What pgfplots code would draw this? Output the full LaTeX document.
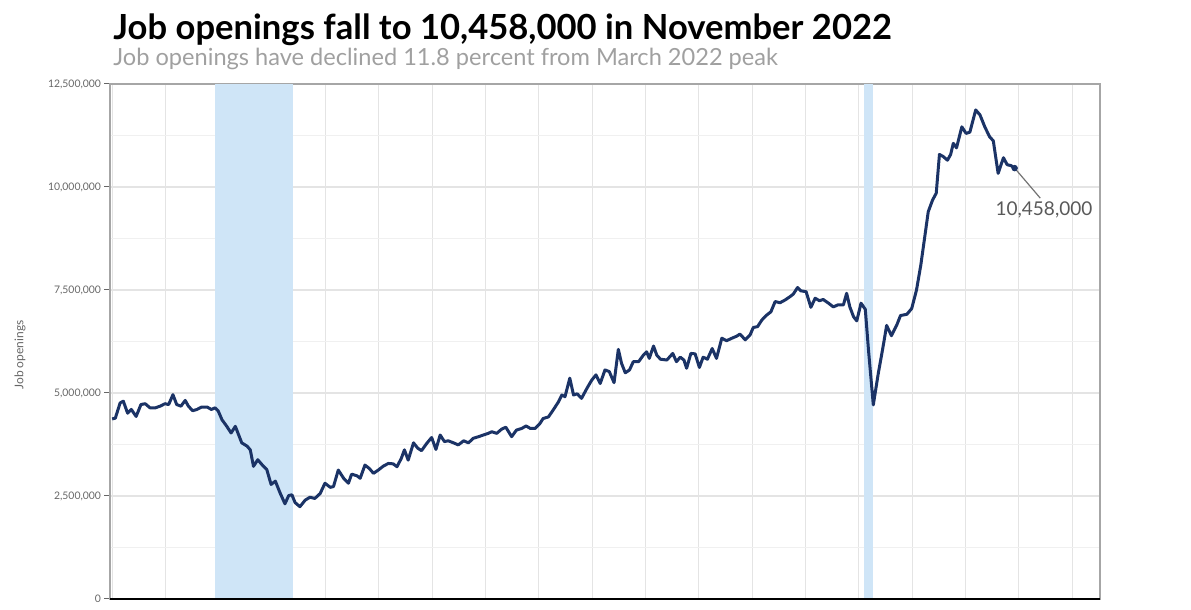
\documentclass[border=0pt]{standalone}
\usepackage{pgfplots}
\pgfplotsset{compat=1.18}
\usepackage{fontspec}
\setmainfont{Lato}
\definecolor{navy}{HTML}{1B3366}
\definecolor{recess}{HTML}{CFE5F7}
\definecolor{gridc}{HTML}{E4E4E4}
\definecolor{gridm}{HTML}{F0F0F0}
\definecolor{subgray}{HTML}{A0A0A0}
\definecolor{tickgray}{HTML}{666666}
\begin{document}
\begin{tikzpicture}
\useasboundingbox (0,0) rectangle (595.5pt,305pt);
\node[anchor=base west, inner sep=0pt, font=\fontsize{17.3}{19}\selectfont\bfseries] at (56.5pt,285pt) {Job openings fall to 10,458,000 in November 2022};
\node[anchor=base west, inner sep=0pt, text=subgray, font=\fontsize{11.8}{13}\selectfont] at (56.5pt,272pt) {Job openings have declined 11.8 percent from March 2022 peak};
\node[rotate=90, inner sep=0pt, text=tickgray, font=\fontsize{6}{7}\selectfont] at (10pt,127.5pt) {Job openings};
\begin{axis}[
  at={(55pt,5.5pt)}, anchor=origin,
  scale only axis, width=495pt, height=257.5pt,
  xmin=2005.96, xmax=2024.52, ymin=0, ymax=12.5,
  xtick={2006,2007,...,2024}, xticklabels={}, xtick style={draw=none},
  ytick={0,2.5,5,7.5,10,12.5},
  yticklabels={0,{2,500,000},{5,000,000},{7,500,000},{10,000,000},{12,500,000}},
  minor ytick={1.25,3.75,6.25,8.75,11.25},
  ytick pos=left, ytick align=outside,
  major tick length=2.8pt, minor tick length=0pt,
  y tick style={tickgray, line width=0.5pt},
  yticklabel style={text=tickgray, font=\fontsize{5.2}{6}\selectfont, inner xsep=1.5pt},
  /pgf/number format/assume math mode=true,
  grid=both,
  major grid style={gridc, line width=0.6pt},
  minor grid style={gridm, line width=0.6pt},
  axis line style={draw=black!35, line width=0.6pt},
  clip=false,
]
\addplot[fill=recess, draw=none] coordinates {(2007.93,0) (2007.93,12.5) (2009.40,12.5) (2009.40,0)} -- cycle;
\addplot[fill=recess, draw=none] coordinates {(2020.10,0) (2020.10,12.5) (2020.27,12.5) (2020.27,0)} -- cycle;
\draw[black, line width=0.8pt] (rel axis cs:0,0) -- (rel axis cs:1,0);
\addplot[navy, line width=1.5pt, line join=round] coordinates {
(2006.00,4.37) (2006.06,4.39) (2006.15,4.76) (2006.21,4.80) (2006.29,4.51) (2006.36,4.60) (2006.45,4.43) (2006.54,4.72) (2006.62,4.74) (2006.71,4.64) (2006.81,4.64) (2006.90,4.68)
(2006.99,4.74) (2007.06,4.72) (2007.14,4.96) (2007.21,4.72) (2007.29,4.68) (2007.37,4.82) (2007.43,4.68) (2007.51,4.57) (2007.59,4.60) (2007.68,4.66) (2007.78,4.66) (2007.86,4.60)
(2007.93,4.64) (2007.99,4.56) (2008.06,4.35) (2008.15,4.19) (2008.23,4.03) (2008.31,4.19) (2008.37,3.99) (2008.43,3.79) (2008.53,3.71) (2008.59,3.62) (2008.65,3.22) (2008.73,3.38)
(2008.81,3.26) (2008.90,3.14) (2008.98,2.78) (2009.06,2.86) (2009.15,2.57) (2009.24,2.31) (2009.31,2.51) (2009.37,2.53) (2009.43,2.34) (2009.52,2.24) (2009.62,2.40) (2009.71,2.47)
(2009.80,2.44) (2009.90,2.56) (2009.99,2.81) (2010.09,2.71) (2010.15,2.73) (2010.24,3.13) (2010.34,2.93) (2010.43,2.81) (2010.49,3.03) (2010.59,2.99) (2010.65,2.93) (2010.74,3.25)
(2010.82,3.17) (2010.90,3.05) (2010.99,3.13) (2011.09,3.23) (2011.18,3.29) (2011.27,3.28) (2011.34,3.21) (2011.42,3.41) (2011.48,3.62) (2011.55,3.37) (2011.65,3.79) (2011.73,3.66)
(2011.80,3.60) (2011.90,3.78) (2011.99,3.92) (2012.07,3.63) (2012.15,3.98) (2012.23,3.82) (2012.30,3.84) (2012.40,3.79) (2012.49,3.74) (2012.59,3.84) (2012.68,3.79) (2012.77,3.90)
(2012.87,3.94) (2012.96,3.98) (2013.05,4.02) (2013.12,4.06) (2013.21,4.02) (2013.30,4.12) (2013.38,4.17) (2013.49,3.94) (2013.58,4.10) (2013.68,4.14) (2013.76,4.20) (2013.84,4.14)
(2013.93,4.14) (2014.02,4.26) (2014.08,4.38) (2014.18,4.42) (2014.27,4.59) (2014.37,4.79) (2014.43,4.95) (2014.49,4.91) (2014.58,5.36) (2014.65,4.95) (2014.72,4.98) (2014.80,4.87)
(2014.90,5.11) (2014.99,5.31) (2015.07,5.44) (2015.15,5.23) (2015.24,5.56) (2015.32,5.52) (2015.41,5.25) (2015.49,6.06) (2015.55,5.72) (2015.62,5.49) (2015.70,5.56) (2015.77,5.76)
(2015.87,5.76) (2015.96,5.92) (2016.02,6.00) (2016.07,5.84) (2016.15,6.14) (2016.21,5.92) (2016.28,5.82) (2016.40,5.80) (2016.51,5.96) (2016.58,5.76) (2016.65,5.87) (2016.72,5.80)
(2016.77,5.60) (2016.85,5.96) (2016.93,5.95) (2017.01,5.62) (2017.08,5.87) (2017.16,5.82) (2017.25,6.08) (2017.33,5.84) (2017.43,6.33) (2017.52,6.27) (2017.62,6.33) (2017.71,6.38)
(2017.77,6.43) (2017.87,6.29) (2017.96,6.41) (2018.02,6.59) (2018.10,6.61) (2018.18,6.77) (2018.27,6.89) (2018.35,6.97) (2018.43,7.22) (2018.52,7.19) (2018.62,7.26) (2018.71,7.34)
(2018.77,7.40) (2018.85,7.56) (2018.91,7.48) (2019.01,7.46) (2019.10,7.08) (2019.18,7.30) (2019.26,7.24) (2019.33,7.27) (2019.43,7.18) (2019.52,7.09) (2019.61,7.14) (2019.71,7.14)
(2019.77,7.42) (2019.83,7.09) (2019.90,6.85) (2019.96,6.75) (2020.04,7.18) (2020.12,7.03) (2020.18,6.04) (2020.27,4.71) (2020.36,5.45) (2020.45,6.10) (2020.52,6.64) (2020.61,6.39)
(2020.71,6.65) (2020.78,6.88) (2020.90,6.91) (2020.99,7.05) (2021.08,7.50) (2021.16,8.10) (2021.24,8.84) (2021.30,9.40) (2021.38,9.68) (2021.45,9.85) (2021.51,10.79) (2021.58,10.74)
(2021.66,10.65) (2021.72,10.79) (2021.77,11.06) (2021.83,10.95) (2021.93,11.46) (2022.01,11.30) (2022.08,11.33) (2022.19,11.87) (2022.27,11.75) (2022.36,11.46) (2022.45,11.22) (2022.52,11.12)
(2022.61,10.33) (2022.71,10.71) (2022.78,10.54) (2022.85,10.52) (2022.92,10.458)
};
\addplot[only marks, mark=*, mark size=1.4pt, navy] coordinates {(2022.92,10.458)};
\draw[black!55, line width=0.6pt] (axis cs:2022.92,10.458) -- (axis cs:2023.40,9.73);
\node[text=black!65, font=\fontsize{9.5}{11}\selectfont, inner sep=0pt] at (axis cs:2023.47,9.44) {10,458,000};
\end{axis}
\end{tikzpicture}
\end{document}
